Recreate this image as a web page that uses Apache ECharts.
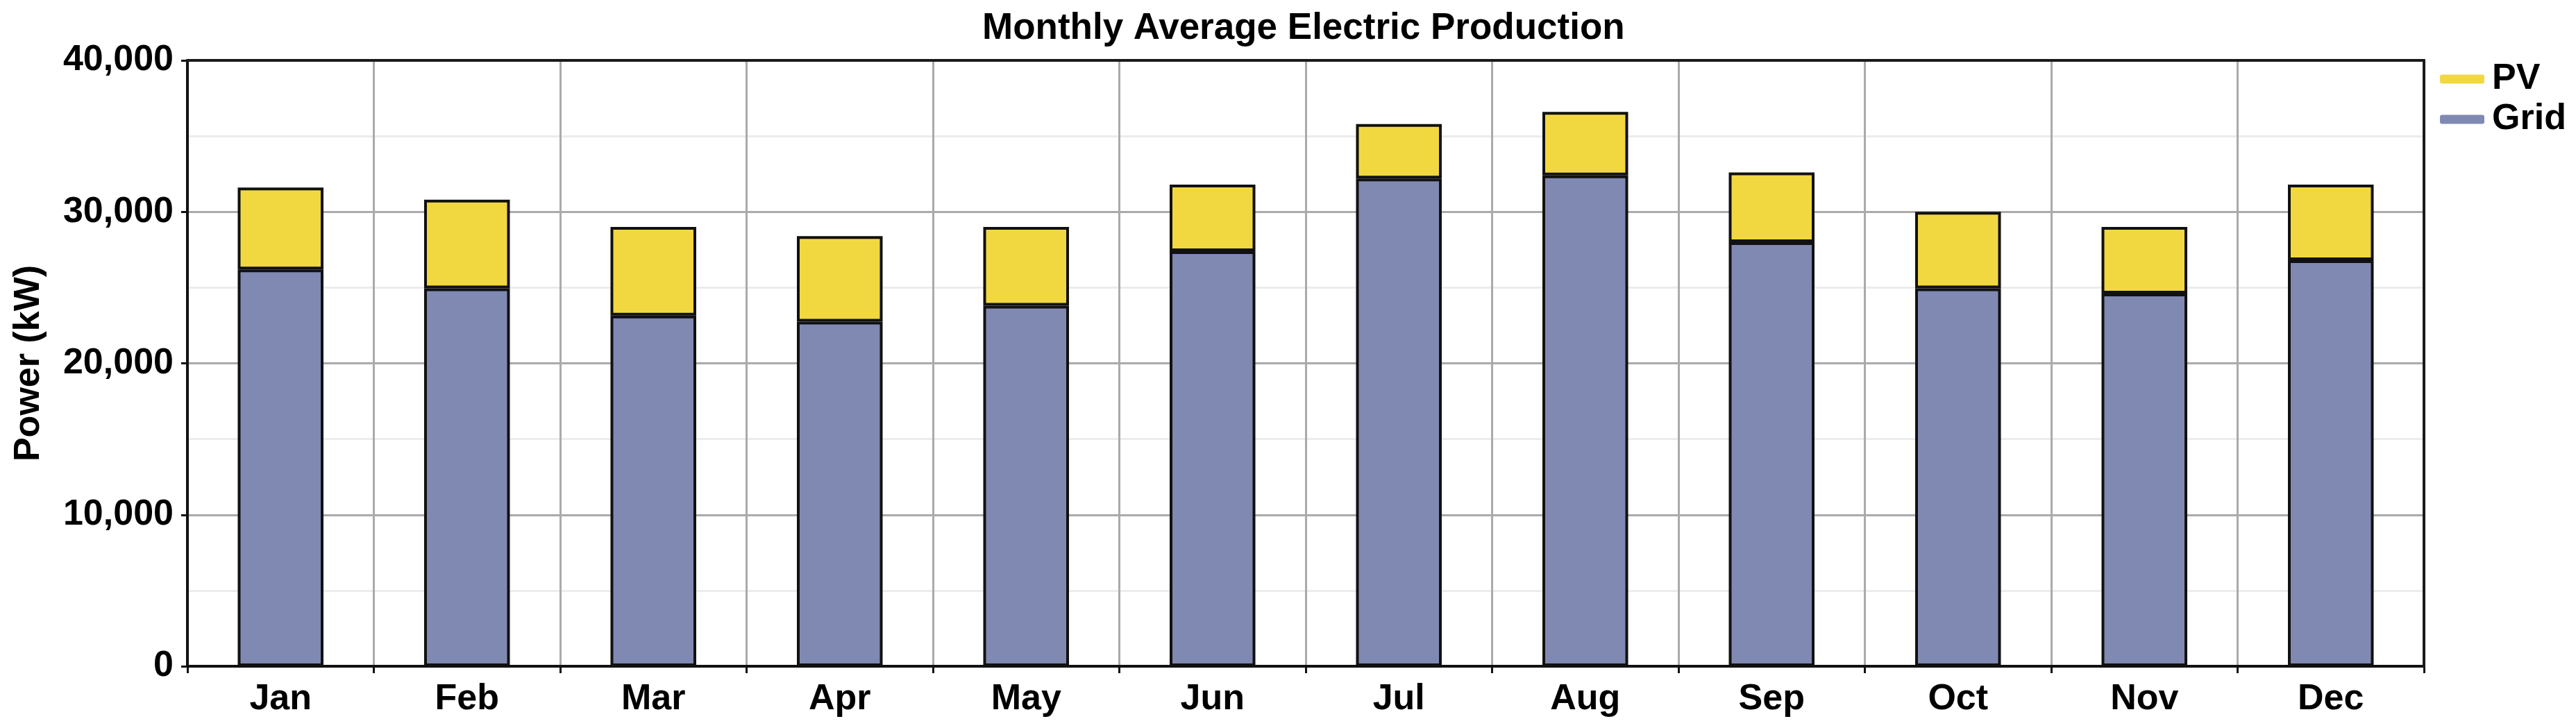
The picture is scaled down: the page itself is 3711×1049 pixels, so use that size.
<!DOCTYPE html>
<html>
<head>
<meta charset="utf-8">
<style>
  html, body { margin: 0; padding: 0; background: #ffffff; }
  #chart { width: 3711px; height: 1049px; }
</style>
<script src="https://cdn.jsdelivr.net/npm/echarts@6/dist/echarts.min.js"></script>
</head>
<body>
<div id="chart"></div>
<script>
const months = ['Jan', 'Feb', 'Mar', 'Apr', 'May', 'Jun', 'Jul', 'Aug', 'Sep', 'Oct', 'Nov', 'Dec'];
const gridValues = [26200, 24950, 23150, 22750, 23800, 27400, 32200, 32400, 28000, 24950, 24600, 26800];
const pvValues = [5400, 5850, 5850, 5650, 5200, 4400, 3600, 4200, 4600, 5050, 4400, 5000];
const seriesNames = ['PV', 'Grid'];
const titleText = 'Monthly Average Electric Production';
const yAxisName = 'Power (kW)';

const FONT = '"Liberation Sans", Arial, Helvetica, sans-serif';
const chart = echarts.init(document.getElementById('chart'), null, { renderer: 'canvas' });

chart.setOption({
  backgroundColor: '#ffffff',
  animation: false,
  title: {
    text: titleText,
    left: 1415,
    top: 15,
    padding: 0,
    textStyle: { fontFamily: FONT, fontWeight: 'bold', fontSize: 53, color: '#000' }
  },
  legend: {
    data: seriesNames,
    orient: 'vertical',
    left: 3515,
    top: 88,
    padding: 0,
    itemWidth: 64,
    itemHeight: 13,
    itemGap: 6,
    icon: 'roundRect',
    itemStyle: { borderWidth: 0 },
    textStyle: { fontFamily: FONT, fontWeight: 'bold', fontSize: 52, color: '#000', padding: [0, 0, 0, 6] }
  },
  grid: {
    left: 270, right: 219, top: 87, bottom: 89,
    show: true, borderColor: '#111', borderWidth: 3, backgroundColor: '#fff'
  },
  xAxis: [
    {
      type: 'category',
      data: months,
      boundaryGap: true,
      axisLine: { show: true, lineStyle: { color: '#111', width: 4 } },
      axisTick: { show: true, alignWithLabel: false, length: 10, lineStyle: { color: '#111', width: 3 } },
      axisLabel: { fontFamily: FONT, fontWeight: 'bold', fontSize: 52, color: '#000', margin: 22 },
      splitLine: { show: true, lineStyle: { color: '#aaaaaa', width: 3 } }
    },
    {
      type: 'category',
      data: months,
      position: 'top',
      z: 5,
      axisLine: { show: true, onZero: false, lineStyle: { color: '#1a1a1a', width: 4 } },
      axisTick: { show: false },
      axisLabel: { show: false },
      splitLine: { show: false }
    }
  ],
  yAxis: [
    {
      type: 'value',
      min: 0, max: 40000, interval: 10000,
      name: yAxisName,
      nameLocation: 'middle',
      nameRotate: 90,
      nameGap: 202,
      nameTextStyle: { fontFamily: FONT, fontWeight: 'bold', fontSize: 52, color: '#000' },
      axisLine: { show: true, lineStyle: { color: '#111', width: 4 } },
      axisTick: { show: true, length: 9, lineStyle: { color: '#111', width: 3 } },
      axisLabel: {
        fontFamily: FONT, fontWeight: 'bold', fontSize: 52, color: '#000', margin: 20,
        formatter: v => v.toLocaleString('en-US')
      },
      splitLine: { show: true, lineStyle: { color: '#aaaaaa', width: 3 } },
      minorTick: { show: false, splitNumber: 2 },
      minorSplitLine: { show: true, lineStyle: { color: '#ececec', width: 3 } }
    },
    {
      type: 'value',
      min: 0, max: 40000, interval: 10000,
      position: 'right',
      z: 5,
      axisLine: { show: true, onZero: false, lineStyle: { color: '#1a1a1a', width: 4 } },
      axisTick: { show: false },
      axisLabel: { show: false },
      splitLine: { show: false }
    }
  ],
  series: [
    {
      name: 'Grid', type: 'bar', stack: 'total', data: gridValues, barWidth: '46%',
      itemStyle: { color: '#7f89b2', borderColor: '#111', borderWidth: 4 }
    },
    {
      name: 'PV', type: 'bar', stack: 'total', data: pvValues, barWidth: '46%',
      itemStyle: { color: '#f2d840', borderColor: '#111', borderWidth: 4 }
    }
  ]
});
</script>
</body>
</html>
